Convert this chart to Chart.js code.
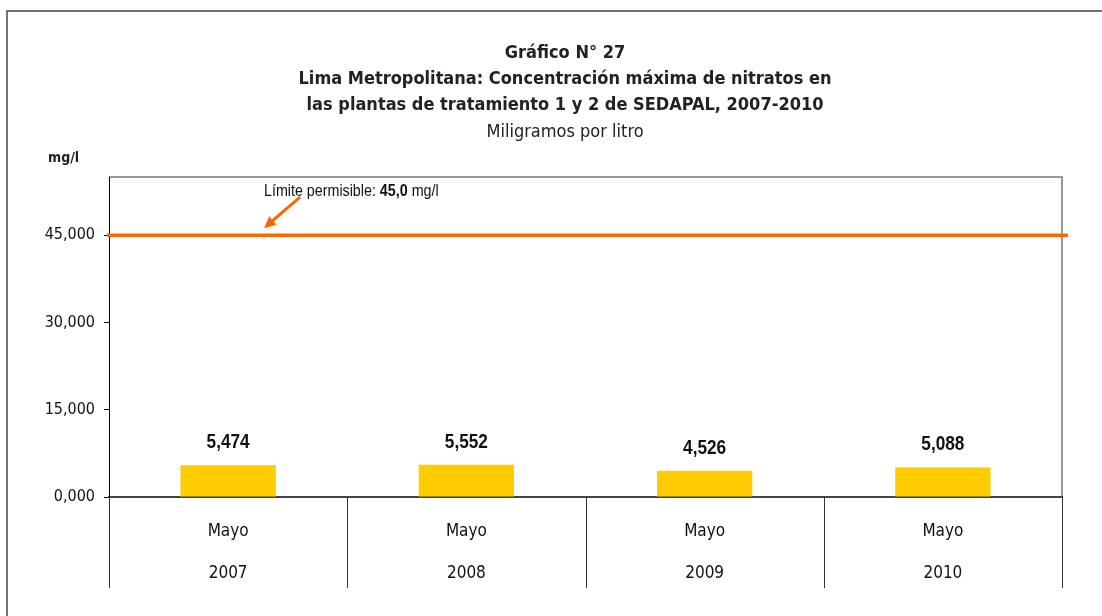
<!DOCTYPE html>
<html>
<head>
<meta charset="utf-8">
<script src="https://cdn.jsdelivr.net/npm/chart.js@4"></script>
<style>
  html, body { margin: 0; padding: 0; background: #fff; }
  #wrap { width: 1102px; height: 616px; }
</style>
</head>
<body>
<div id="wrap"><canvas id="data"></canvas></div>
<script>
var months = ['Mayo', 'Mayo', 'Mayo', 'Mayo'];
var years = ['2007', '2008', '2009', '2010'];
var nitrate_max = [5.474, 5.552, 4.526, 5.088];
var limit_value = 45.0;
var y_ticks = [0, 15, 30, 45];
var title_lines = [
    'Gráfico N° 27',
    'Lima Metropolitana: Concentración máxima de nitratos en',
    'las plantas de tratamiento 1 y 2 de SEDAPAL, 2007-2010'
];
var subtitle = 'Miligramos por litro';
var unit_label = 'mg/l';
var limit_text = ['Límite permisible: ', '45,0', ' mg/l'];

var narrow = '"DejaVu Sans Condensed", "Arial Narrow", sans-serif';
var arial = '"Liberation Sans", Arial, sans-serif';
var orange = '#ff6600';

function fmt(v) {
    return v.toFixed(3).replace('.', ',');
}

// Arial squeezed sideways, close enough to Arial Narrow
function squeezed(ctx, text, x, y, k) {
    k = k || 0.82;
    ctx.save();
    ctx.translate(x, y);
    ctx.scale(k, 1);
    ctx.fillText(text, 0, 0);
    var w = ctx.measureText(text).width * k;
    ctx.restore();
    return w;
}

// outer frame + grey top/right border of the plot
var frame_plugin = {
    id: 'frame',
    beforeDraw: function(chart) {
        var ctx = chart.ctx, a = chart.chartArea;
        ctx.save();
        ctx.strokeStyle = '#444';
        ctx.lineWidth = 1.5;
        ctx.beginPath();
        ctx.moveTo(7, chart.height);
        ctx.lineTo(7, 11);
        ctx.lineTo(chart.width, 11);
        ctx.stroke();
        ctx.strokeStyle = '#999';
        ctx.lineWidth = 2;
        ctx.beginPath();
        ctx.moveTo(a.left, a.top);
        ctx.lineTo(a.right, a.top);
        ctx.lineTo(a.right, a.bottom);
        ctx.stroke();
        ctx.restore();
    }
};

var extras_plugin = {
    id: 'extras',
    afterDraw: function(chart) {
        var ctx = chart.ctx, a = chart.chartArea;
        var x = chart.scales.x, y = chart.scales.y;
        ctx.save();

        // titles
        var cx = 565;
        ctx.fillStyle = '#222';
        ctx.textAlign = 'center';
        ctx.textBaseline = 'middle';
        ctx.font = 'bold 18px ' + narrow;
        var ty = [53, 79, 105];
        title_lines.forEach(function(t, i) { ctx.fillText(t, cx, ty[i]); });
        ctx.font = '18px ' + narrow;
        ctx.fillText(subtitle, cx, 132);
        ctx.font = 'bold 14px ' + narrow;
        ctx.textAlign = 'left';
        ctx.fillText(unit_label, 48, 158);

        // category dividers below the axis
        var n = months.length;
        ctx.strokeStyle = '#333';
        ctx.lineWidth = 1;
        for (var i = 0; i <= n; i++) {
            var px = Math.round(x.left + i * x.width / n) + 0.5;
            ctx.beginPath();
            ctx.moveTo(px, a.bottom);
            ctx.lineTo(px, a.bottom + 91);
            ctx.stroke();
        }

        // bar value labels
        ctx.fillStyle = '#111';
        ctx.textAlign = 'center';
        ctx.textBaseline = 'alphabetic';
        ctx.font = 'bold 21px ' + arial;
        chart.getDatasetMeta(0).data.forEach(function(bar, i) {
            squeezed(ctx, fmt(nitrate_max[i]), bar.x, bar.y - 17);
        });

        // limit line
        var ly = y.getPixelForValue(limit_value);
        ctx.strokeStyle = orange;
        ctx.lineWidth = 3.5;
        ctx.beginPath();
        ctx.moveTo(a.left - 2, ly);
        ctx.lineTo(a.right + 6, ly);
        ctx.stroke();

        // annotation text
        var tx = a.left + 155;
        ctx.textAlign = 'left';
        ctx.textBaseline = 'middle';
        ctx.fillStyle = '#111';
        limit_text.forEach(function(t, i) {
            ctx.font = (i == 1 ? 'bold ' : '') + '17px ' + arial;
            tx += squeezed(ctx, t, tx, 191, 0.84);
        });

        // arrow
        var x0 = a.left + 191, y0 = ly - 38, x1 = a.left + 155, y1 = ly - 7;
        ctx.strokeStyle = orange;
        ctx.fillStyle = orange;
        ctx.lineWidth = 3;
        ctx.beginPath();
        ctx.moveTo(x0, y0);
        ctx.lineTo(x1 + 8, y1 - 7);
        ctx.stroke();
        var ang = Math.atan2(y1 - y0, x1 - x0);
        ctx.beginPath();
        ctx.moveTo(x1, y1);
        ctx.lineTo(x1 - 13 * Math.cos(ang - 0.45), y1 - 13 * Math.sin(ang - 0.45));
        ctx.lineTo(x1 - 13 * Math.cos(ang + 0.45), y1 - 13 * Math.sin(ang + 0.45));
        ctx.closePath();
        ctx.fill();

        ctx.restore();
    }
};

var config = {
    type: 'bar',
    data: {
        labels: months.map(function(m, i) { return [m, years[i]]; }),
        datasets: [{
            label: 'Nitratos',
            data: nitrate_max,
            backgroundColor: '#ffcc00',
            borderWidth: 0,
            categoryPercentage: 1.0,
            barPercentage: 0.4
        }]
    },
    options: {
        responsive: true,
        maintainAspectRatio: false,
        animation: false,
        layout: { padding: { left: 0, right: 40, top: 177, bottom: 28 } },
        plugins: {
            legend: { display: false },
            tooltip: { enabled: false },
            title: { display: false }
        },
        scales: {
            x: {
                grid: { display: false },
                border: { display: true, color: '#444', width: 2 },
                ticks: {
                    color: '#111',
                    font: { family: narrow, size: 17, lineHeight: 2.5 },
                    padding: 5,
                    maxRotation: 0
                },
                afterFit: function(s) { s.height = 91; }
            },
            y: {
                min: 0,
                max: 55,
                afterBuildTicks: function(s) {
                    s.ticks = y_ticks.map(function(v) { return { value: v }; });
                },
                ticks: {
                    color: '#111',
                    font: { family: narrow, size: 16 },
                    padding: 9,
                    callback: function(v) { return fmt(v); }
                },
                grid: { drawOnChartArea: false, drawTicks: true, tickLength: 5, color: '#000' },
                border: { color: '#000', width: 1 },
                afterFit: function(s) { s.width = 109; }
            }
        }
    },
    plugins: [frame_plugin, extras_plugin]
};

(function() {
    chart = new Chart(document.getElementById('data'), config);
})();
</script>
</body>
</html>
